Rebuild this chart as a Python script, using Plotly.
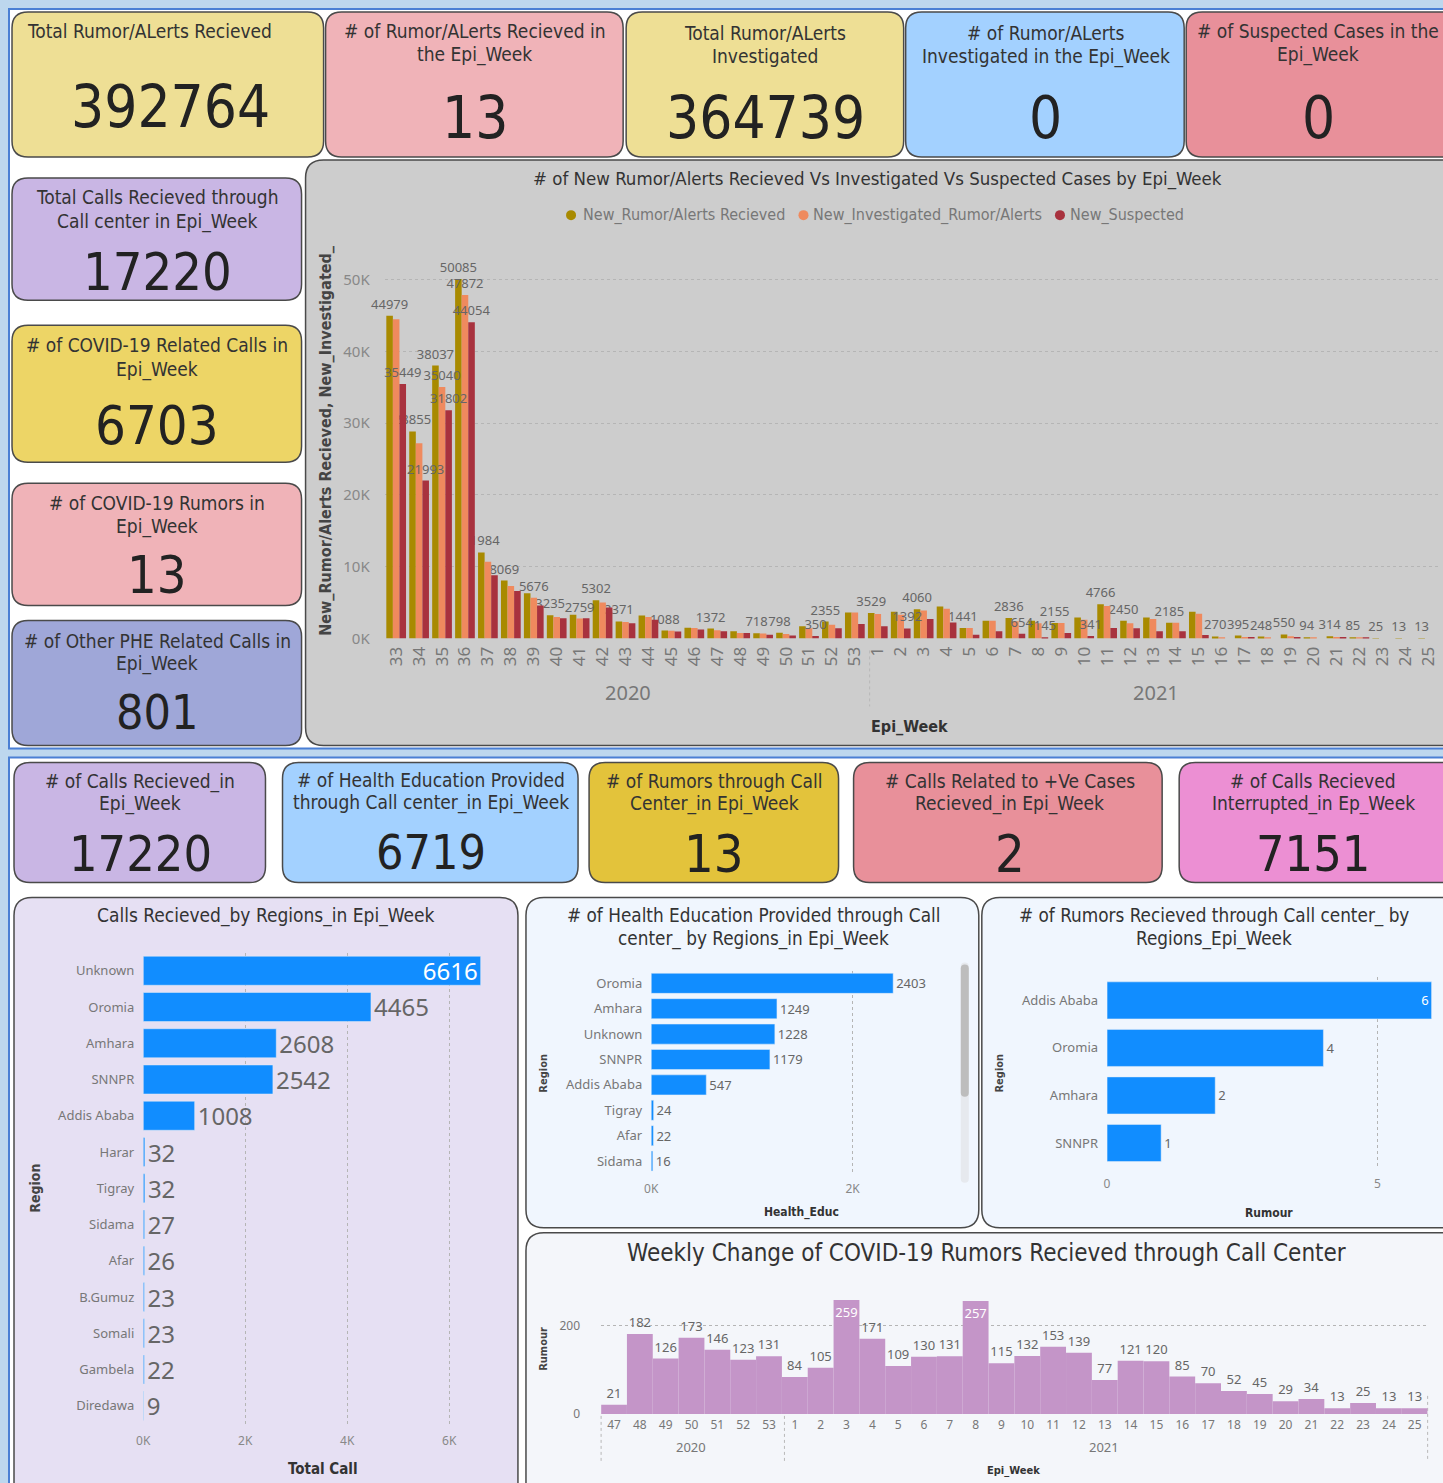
import plotly.graph_objects as go

W, H = 1443, 1483
# screenshot pipeline maps page (X, Y) -> (OX + S*X, S*Y); positions below are given in picture pixels
S, OX = 0.9933, 7.0
FONT = "DejaVu Sans Condensed, DejaVu Sans, sans-serif"
UIF = "Noto Sans, Open Sans, sans-serif"

# ---------------- data ----------------
weeks = [str(w) for w in range(33, 54)] + [str(w) for w in range(1, 26)]
received = [44979, 28855, 38037, 50085, 11984, 8069, 6300, 3235, 3300, 5302, 2371, 3200, 1088, 1500, 1372,
            1000, 718, 798, 1700, 2355, 3600,
            3529, 3700, 4060, 4450, 1441, 2470, 2836, 2470, 2155, 2900, 4766, 2450, 2900, 2185, 3700,
            270, 395, 248, 550, 94, 314, 85, 25, 13, 13]
investigated = [44500, 27200, 35040, 47872, 10700, 7300, 5676, 3000, 2759, 5000, 2300, 3000, 1050, 1450, 1150,
                750, 700, 600, 1400, 1900, 3600,
                3400, 3300, 3900, 4140, 1441, 2470, 2400, 2100, 2155, 2600, 4500, 2100, 2700, 2185, 3450,
                150, 200, 150, 300, 94, 200, 85, 0, 0, 0]
suspected = [35449, 21993, 31802, 44054, 8800, 6600, 4600, 2800, 2800, 4300, 2100, 2600, 950, 1250, 1000,
             750, 500, 400, 350, 1400, 2000,
             1700, 1392, 2700, 2230, 500, 980, 654, 145, 740, 341, 1440, 1400, 980, 980, 470,
             0, 200, 0, 200, 0, 200, 85, 0, 0, 0]
recv_labeled = {"33", "34", "35", "36", "37", "38", "40", "42", "43", "45", "47", "49", "50", "52",
                "1", "3", "5", "7", "9", "11", "12", "14"} | {str(w) for w in range(16, 26)}
inv_labeled = {"35", "36", "39", "41"}
sus_labeled = {"33", "34", "35", "36", "51", "2", "7", "8", "10"}

calls_regions = ["Unknown", "Oromia", "Amhara", "SNNPR", "Addis Ababa", "Harar", "Tigray", "Sidama",
                 "Afar", "B.Gumuz", "Somali", "Gambela", "Diredawa"]
calls_values = [6616, 4465, 2608, 2542, 1008, 32, 32, 27, 26, 23, 23, 22, 9]
health_regions = ["Oromia", "Amhara", "Unknown", "SNNPR", "Addis Ababa", "Tigray", "Afar", "Sidama"]
health_values = [2403, 1249, 1228, 1179, 547, 24, 22, 16]
rumor_regions = ["Addis Ababa", "Oromia", "Amhara", "SNNPR"]
rumor_values = [6, 4, 2, 1]

weekly_weeks = [str(w) for w in range(47, 54)] + [str(w) for w in range(1, 26)]
weekly_rumors = [21, 182, 126, 173, 146, 123, 131, 84, 105, 259, 171, 109, 130, 131, 257, 115, 132, 153,
                 139, 77, 121, 120, 85, 70, 52, 45, 29, 34, 13, 25, 13, 13]

card_titles = [
    ["Total Rumor/ALerts Recieved"],
    ["# of Rumor/ALerts Recieved in", "the Epi_Week"],
    ["Total Rumor/ALerts", "Investigated"],
    ["# of Rumor/ALerts", "Investigated in the Epi_Week"],
    ["# of Suspected Cases in the", "Epi_Week"],
    ["Total Calls Recieved through", "Call center in Epi_Week"],
    ["# of COVID-19 Related Calls in", "Epi_Week"],
    ["# of COVID-19 Rumors in", "Epi_Week"],
    ["# of Other PHE Related Calls in", "Epi_Week"],
    ["# of Calls Recieved_in", "Epi_Week"],
    ["# of Health Education Provided", "through Call center_in Epi_Week"],
    ["# of Rumors through Call", "Center_in Epi_Week"],
    ["# Calls Related to +Ve Cases", "Recieved_in Epi_Week"],
    ["# of Calls Recieved", "Interrupted_in Ep_Week"],
]
card_values = ["392764", "13", "364739", "0", "0", "17220", "6703", "13", "801",
               "17220", "6719", "13", "2", "7151"]


# ---------------- helpers (coordinates given in picture pixels) ----------------
def px(x):
    return ((x - OX) / S) / W


def py(y):
    return 1 - (y / S) / H


def clamp(v):
    return min(1.0, max(0.0, v))


def dx(a, b):
    return [clamp(px(a)), clamp(px(b))]


def dy(bottom, top):
    return [clamp(py(bottom)), clamp(py(top))]


shapes = []
annotations = []


def rrect(x0, y0, x1, y1, r, fill, line="#4a4a4a", lw=1.5):
    def P(x, y):
        return f"{px(x):.5f},{py(y):.5f}"
    path = (f"M {P(x0 + r, y0)} L {P(x1 - r, y0)} Q {P(x1, y0)} {P(x1, y0 + r)} "
            f"L {P(x1, y1 - r)} Q {P(x1, y1)} {P(x1 - r, y1)} L {P(x0 + r, y1)} "
            f"Q {P(x0, y1)} {P(x0, y1 - r)} L {P(x0, y0 + r)} Q {P(x0, y0)} {P(x0 + r, y0)} Z")
    shapes.append(dict(type="path", xref="paper", yref="paper", path=path, fillcolor=fill,
                       line=dict(color=line, width=lw), layer="below"))


def rect(x0, y0, x1, y1, fill, line=None, lw=0):
    shapes.append(dict(type="rect", xref="paper", yref="paper", x0=px(x0), x1=px(x1), y0=py(y1), y1=py(y0),
                       fillcolor=fill, line=dict(color=line or fill, width=lw), layer="below"))


def vline(x, y0, y1, color="#b8b8b8", dash="dot", w=1):
    shapes.append(dict(type="line", xref="paper", yref="paper", x0=px(x), x1=px(x), y0=py(y0), y1=py(y1),
                       line=dict(color=color, width=w, dash=dash), layer="below"))


def text(x, y, s, size, color="#333", family=FONT, anchor="center", angle=0, bold=False):
    if bold:
        s = f"<b>{s}</b>"
    annotations.append(dict(x=px(x), y=py(y), xref="paper", yref="paper", text=s, showarrow=False,
                            xanchor=anchor, yanchor="middle", textangle=angle,
                            font=dict(size=size, color=color, family=family)))


# ---------------- backgrounds ----------------
rect(-20, -20, 1500, 1520, "#BDD7EE")
rect(9, 9, 1460, 748, "#FFFFFF", "#4A7FD4", 2)
rect(9, 757, 1460, 1520, "#FFFFFF", "#4A7FD4", 2)

# cards: (x0, y0, x1, y1, fill, cx, title ys, value y, value size, left-aligned)
cards = [
    (12, 12, 323, 157, "#EEDF95", 170, [31], 107, 58, True),
    (325, 12, 622, 157, "#F0B3B8", 474, [31, 54], 118, 58, False),
    (625, 12, 902, 157, "#EEDF95", 764, [33, 56], 118, 58, False),
    (904, 12, 1182, 157, "#A3D1FF", 1044, [33, 56], 118, 58, False),
    (1184, 12, 1460, 157, "#E8909A", 1316, [31, 54], 118, 58, False),
    (12, 178, 301, 300, "#C9B6E4", 157, [197, 221], 272, 52, False),
    (12, 325, 301, 462, "#EDD566", 157, [345, 369], 425, 54, False),
    (12, 483, 301, 605, "#F0B3B8", 157, [503, 526], 575, 52, False),
    (12, 620, 301, 745, "#9FA7D8", 157, [641, 663], 712, 48, False),
    (14, 762, 265, 882, "#C9B6E4", 140, [781, 803], 853, 50, False),
    (282, 762, 577, 882, "#A3D1FF", 430, [780, 802], 851, 48, False),
    (588, 762, 837, 882, "#E3C33B", 713, [781, 803], 853, 52, False),
    (852, 762, 1160, 882, "#E8909A", 1008, [781, 803], 853, 52, False),
    (1177, 762, 1460, 882, "#EC8FD3", 1311, [781, 803], 853, 50, False),
]
for (x0, y0, x1, y1, fill, cx, tys, vy, vs, left), titles, val in zip(cards, card_titles, card_values):
    rrect(x0, y0, x1, y1, 16, fill)
    for t, ty in zip(titles, tys):
        if left:
            text(25, ty, t, 19, "#333", anchor="left")
        else:
            text(cx, ty, t, 19, "#333")
    text(cx, vy, val, vs, "#222")

# chart panels
rrect(305, 160, 1460, 745, 18, "#CDCDCD")
rrect(14, 897, 517, 1520, 18, "#E6E0F3")
rrect(525, 897, 977, 1227, 18, "#F0F6FE")
rrect(980, 897, 1460, 1227, 18, "#F0F6FE")
rrect(525, 1232, 1460, 1520, 18, "#F4F6FA")

# ---------------- main chart ----------------
fig = go.Figure()
C_RECV, C_INV, C_SUS = "#A88A00", "#EF8A5E", "#A8323E"


def lab(vals, labeled):
    return [str(v) if w in labeled else "" for w, v in zip(weeks, vals)]


for name, vals, col, labeled in [("New_Rumor/Alerts Recieved", received, C_RECV, recv_labeled),
                                 ("New_Investigated_Rumor/Alerts", investigated, C_INV, inv_labeled),
                                 ("New_Suspected", suspected, C_SUS, sus_labeled)]:
    fig.add_trace(go.Bar(x=weeks, y=vals, name=name, marker=dict(color=col, line=dict(width=0)),
                         text=lab(vals, labeled), textposition="outside", constraintext="none",
                         cliponaxis=False, textangle=0, textfont=dict(size=13, color="#666", family=UIF),
                         showlegend=False, xaxis="x", yaxis="y"))

text(876, 179, "# of New Rumor/Alerts Recieved Vs Investigated Vs Suspected Cases by Epi_Week", 18.5, "#333")
# legend
for cxl, tx, label, col in [(570, 580, "New_Rumor/Alerts Recieved", C_RECV),
                            (802, 810, "New_Investigated_Rumor/Alerts", C_INV),
                            (1058, 1066, "New_Suspected", C_SUS)]:
    shapes.append(dict(type="circle", xref="paper", yref="paper", x0=px(cxl - 5), x1=px(cxl + 5),
                       y0=py(220), y1=py(210), fillcolor=col, line=dict(width=0)))
    text(tx, 215, label, 16, "#777", anchor="left")
text(325, 440, "New_Rumor/Alerts Recieved, New_Investigated_", 16, "#444", angle=-90, bold=True)
text(627, 692, "2020", 20, "#777", family=UIF)
text(1154, 692, "2021", 20, "#777", family=UIF)
vline(868, 650, 706)
text(908, 726, "Epi_Week", 16, "#333", bold=True)

# ---------------- calls by region ----------------
calls_pos = ["inside" if i == 0 else "outside" for i in range(len(calls_values))]
calls_col = ["#FFFFFF" if i == 0 else "#666" for i in range(len(calls_values))]
fig.add_trace(go.Bar(x=calls_values, y=calls_regions, orientation="h", marker=dict(color="#118DFF"),
                     width=0.8, offset=-0.4, text=[str(v) for v in calls_values], textposition=calls_pos,
                     insidetextanchor="end", constraintext="none", cliponaxis=False, textangle=0,
                     textfont=dict(size=24, color=calls_col, family=UIF), showlegend=False,
                     xaxis="x2", yaxis="y2"))
text(266, 915, "Calls Recieved_by Regions_in Epi_Week", 19, "#333")
text(35, 1188, "Region", 14, "#444", angle=-90, bold=True)
text(322, 1468, "Total Call", 15, "#333", bold=True)

# ---------------- health education ----------------
fig.add_trace(go.Bar(x=health_values, y=health_regions, orientation="h", marker=dict(color="#118DFF"),
                     width=0.79, offset=-0.395, text=[str(v) for v in health_values], textposition="outside",
                     constraintext="none", cliponaxis=False, textangle=0,
                     textfont=dict(size=13, color="#666", family=UIF),
                     showlegend=False, xaxis="x3", yaxis="y3"))
text(752, 915, "# of Health Education Provided through Call", 18.8, "#333")
text(752, 938, "center_ by Regions_in Epi_Week", 18.8, "#333")
text(543, 1072, "Region", 11, "#444", angle=-90, bold=True)
text(800, 1212, "Health_Educ", 12, "#333", bold=True)
rrect(959, 962, 967, 1182, 4, "#E6E9EE", line="#E6E9EE", lw=0)
rrect(959, 964, 967, 1096, 4, "#BDBDBD", line="#BDBDBD", lw=0)

# ---------------- rumors by region ----------------
r_pos = ["inside" if i == 0 else "outside" for i in range(len(rumor_values))]
r_col = ["#FFFFFF" if i == 0 else "#666" for i in range(len(rumor_values))]
fig.add_trace(go.Bar(x=rumor_values, y=rumor_regions, orientation="h", marker=dict(color="#118DFF"),
                     width=0.78, offset=-0.39, text=[str(v) for v in rumor_values], textposition=r_pos,
                     insidetextanchor="end", constraintext="none", cliponaxis=False, textangle=0,
                     textfont=dict(size=13, color=r_col, family=UIF), showlegend=False,
                     xaxis="x4", yaxis="y4"))
text(1212, 915, "# of Rumors Recieved through Call center_ by", 18.8, "#333")
text(1212, 938, "Regions_Epi_Week", 18.8, "#333")
text(998, 1072, "Region", 11, "#444", angle=-90, bold=True)
text(1267, 1212, "Rumour", 12, "#333", bold=True)

# ---------------- weekly change ----------------
w_pos = ["inside" if v > 250 else "outside" for v in weekly_rumors]
w_col = ["#FFFFFF" if v > 250 else "#666" for v in weekly_rumors]
fig.add_trace(go.Bar(x=weekly_weeks, y=weekly_rumors, marker=dict(color="#C495C8", line=dict(width=0)),
                     width=1.0, offset=-0.5, text=[str(v) for v in weekly_rumors], textposition=w_pos,
                     insidetextanchor="end", constraintext="none", cliponaxis=False, textangle=0,
                     textfont=dict(size=13, color=w_col, family=UIF), showlegend=False,
                     xaxis="x5", yaxis="y5"))
text(985, 1252, "Weekly Change of COVID-19 Rumors Recieved through Call Center", 24, "#333")
text(543, 1348, "Rumour", 11, "#444", angle=-90, bold=True)
text(690, 1446, "2020", 13, "#777", family=UIF)
text(1102, 1446, "2021", 13, "#777", family=UIF)
vline(600, 1415, 1460)
vline(783, 1415, 1460)
vline(1425, 1395, 1460)
text(1012, 1470, "Epi_Week", 11, "#333", bold=True)

# ---------------- axes ----------------
tickf = dict(size=13, color="#777", family=UIF)
grid = dict(showgrid=True, gridcolor="#B5B5B5", griddash="dot", gridwidth=1)
nogrid = dict(showgrid=False, zeroline=False, showline=False)

fig.update_layout(
    width=W, height=H, margin=dict(l=0, r=0, t=0, b=0),
    paper_bgcolor="#BDD7EE", plot_bgcolor="rgba(0,0,0,0)",
    barmode="group", bargap=0.14, bargroupgap=0,
    shapes=shapes, annotations=annotations, showlegend=False,
    xaxis=dict(domain=dx(384, 1437), type="category", tickangle=-90, ticks="",
               tickfont=dict(size=17, color="#777", family=UIF), ticklabelstandoff=4, anchor="y", **nogrid),
    yaxis=dict(domain=dy(638, 258), range=[0, 53000], tickvals=[0, 10000, 20000, 30000, 40000, 50000],
               ticktext=["0K", "10K", "20K", "30K", "40K", "50K"], tickfont=dict(size=15, color="#888", family=UIF),
               ticklabelstandoff=14, zeroline=False, showline=False, anchor="x", **grid),
    xaxis2=dict(domain=dx(143, 481), range=[0, 6640], tickvals=[0, 2000, 4000, 6000],
                ticktext=["0K", "2K", "4K", "6K"], tickfont=dict(size=12, color="#888", family=UIF),
                zeroline=False, showline=False, anchor="y2", ticklabelstandoff=8, **grid),
    yaxis2=dict(domain=dy(1423, 952), type="category", autorange="reversed", tickfont=tickf,
                ticklabelstandoff=8, anchor="x2", **nogrid),
    xaxis3=dict(domain=dx(650, 950), range=[0, 2985], tickvals=[0, 2000], ticktext=["0K", "2K"],
                tickfont=dict(size=12, color="#888", family=UIF), zeroline=False, showline=False,
                anchor="y3", ticklabelstandoff=6, **grid),
    yaxis3=dict(domain=dy(1173, 970), type="category", autorange="reversed", tickfont=tickf,
                ticklabelstandoff=8, anchor="x3", **nogrid),
    xaxis4=dict(domain=dx(1105, 1430), range=[0, 6.02], tickvals=[0, 5],
                tickfont=dict(size=12, color="#888", family=UIF), zeroline=False, showline=False,
                anchor="y4", ticklabelstandoff=8, **grid),
    yaxis4=dict(domain=dy(1166, 976), type="category", autorange="reversed", tickfont=tickf,
                ticklabelstandoff=8, anchor="x4", **nogrid),
    xaxis5=dict(domain=dx(600, 1425), type="category", tickangle=0,
                tickfont=dict(size=12, color="#777", family=UIF), ticklabelstandoff=2, anchor="y5", **nogrid),
    yaxis5=dict(domain=dy(1413, 1290), range=[0, 280], tickvals=[0, 200],
                tickfont=dict(size=12, color="#777", family=UIF), ticklabelstandoff=20, zeroline=False,
                showline=False, anchor="x5", **grid),
)

# Remove the default page margin so the 1443x1483 figure starts at the window's corner.
POST = ("document.documentElement.style.margin='0';document.documentElement.style.overflow='hidden';"
        "document.body.style.margin='0';document.body.style.overflow='hidden';"
        "var gd=document.getElementById('{plot_id}');if(gd&&gd.parentElement){"
        "gd.parentElement.style.height='1483px';gd.parentElement.style.overflow='hidden';}")
fig.write_html("out.html", post_script=POST, config={"displayModeBar": False})
